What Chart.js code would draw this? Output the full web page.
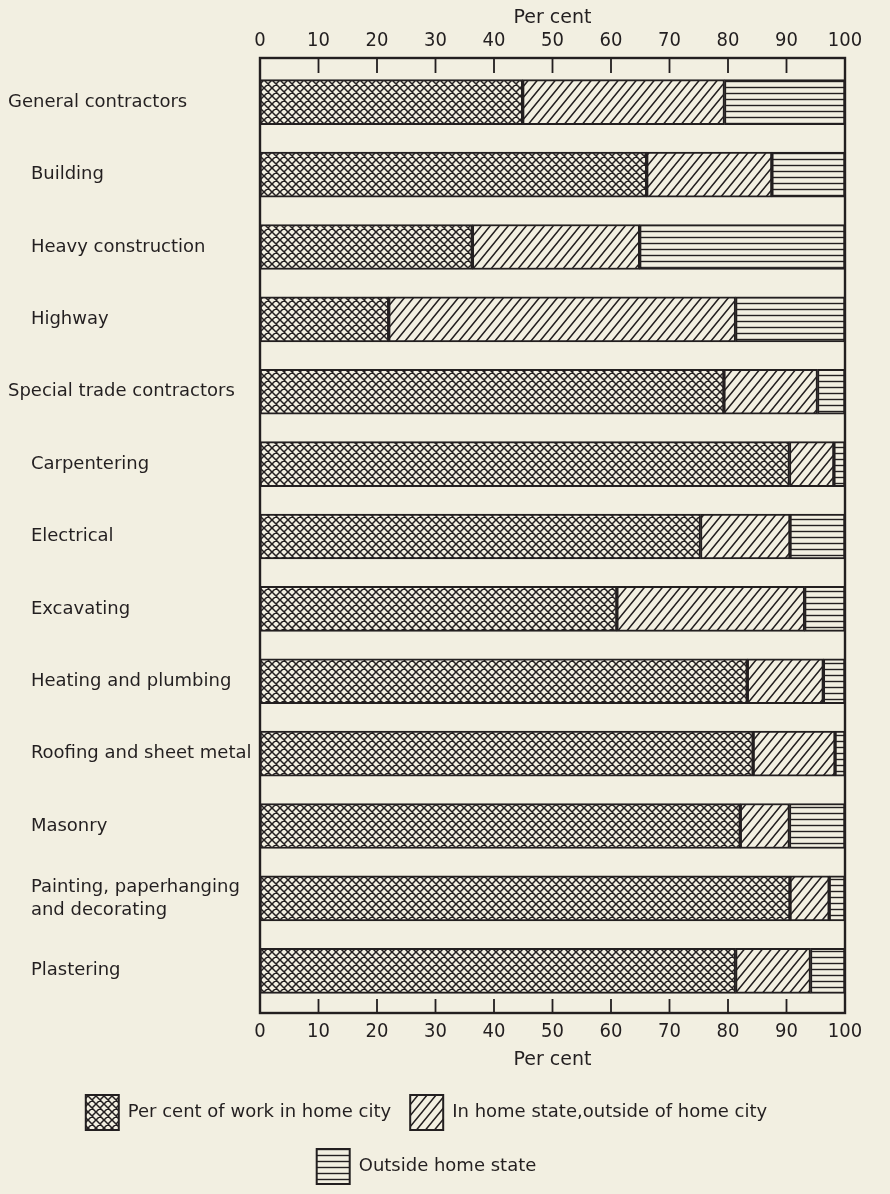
<!DOCTYPE html>
<html>
<head>
<meta charset="utf-8">
<script src="https://cdn.jsdelivr.net/npm/chart.js@4"></script>
<style>
  html, body { margin: 0; padding: 0; background: #f2efe1; }
  canvas { display: block; }
</style>
</head>
<body>
<canvas id="workchart" width="890" height="1194"></canvas>
<script>
var categories = [
    'General contractors',
    '    Building',
    '    Heavy construction',
    '    Highway',
    'Special trade contractors',
    '    Carpentering',
    '    Electrical',
    '    Excavating',
    '    Heating and plumbing',
    '    Roofing and sheet metal',
    '    Masonry',
    ['    Painting, paperhanging', '    and decorating'],
    '    Plastering'
];

// per cent of work
var homeCity     = [44.9, 66.1, 36.3, 22.0, 79.3, 90.5, 75.3, 61.0, 83.3, 84.3, 82.1, 90.6, 81.3];
var homeState    = [34.5, 21.4, 28.6, 59.3, 16.0,  7.6, 15.3, 32.1, 13.0, 14.0,  8.4,  6.7, 12.8];
var outsideState = [20.6, 12.5, 35.1, 18.7,  4.7,  1.9,  9.4,  6.9,  3.7,  1.7,  9.5,  2.7,  5.9];

var tickValues = [0, 10, 20, 30, 40, 50, 60, 70, 80, 90, 100];

var paper = '#f2efe1';
var ink = '#231f20';

function makePattern(kind) {
    var c = document.createElement('canvas');
    var w, h;
    if (kind == 'horizontal') { w = 6; h = 6; }
    else if (kind == 'diagonal') { w = 9; h = 11; }
    else { w = 8; h = 8; }
    c.width = w;
    c.height = h;
    var g = c.getContext('2d');
    g.fillStyle = paper;
    g.fillRect(0, 0, w, h);
    g.strokeStyle = ink;
    g.lineWidth = kind == 'horizontal' ? 1.4 : 1.5;
    g.beginPath();
    if (kind == 'horizontal') {
        g.moveTo(0, 3.5);
        g.lineTo(w, 3.5);
    } else {
        // "/" lines, plus copies one tile left and right for the corners
        [-w, 0, w].forEach(function(dx) {
            g.moveTo(dx - w, 2 * h);
            g.lineTo(dx + 2 * w, -h);
        });
        if (kind == 'cross') {
            [-w, 0, w].forEach(function(dx) {
                g.moveTo(dx - w, -h);
                g.lineTo(dx + 2 * w, 2 * h);
            });
        }
    }
    g.stroke();
    return g.createPattern(c, 'repeat');
}

var baseCtx = document.getElementById('workchart').getContext('2d');
var crossFill = makePattern('cross');
var diagFill = makePattern('diagonal');
var horizFill = makePattern('horizontal');

// frame round the plot with tick marks hanging inside it
var framePlugin = {
    id: 'frame',
    beforeDraw: function(chart) {
        var c = chart.ctx;
        c.save();
        c.fillStyle = paper;
        c.fillRect(0, 0, chart.width, chart.height);
        c.restore();
    },
    afterDatasetsDraw: function(chart) {
        var c = chart.ctx;
        var a = chart.chartArea;
        var x = chart.scales.x;
        var top = a.top - 8;
        var bottom = a.bottom + 6;
        c.save();
        c.strokeStyle = ink;
        c.lineWidth = 2.4;
        c.strokeRect(a.left, top, a.right - a.left, bottom - top);
        c.lineWidth = 1.8;
        c.beginPath();
        tickValues.slice(1, -1).forEach(function(v) {
            var px = x.getPixelForValue(v);
            c.moveTo(px, top);
            c.lineTo(px, top + 15);
            c.moveTo(px, bottom);
            c.lineTo(px, bottom - 14);
        });
        c.stroke();
        c.restore();
    }
};

var numFont = { family: "'DejaVu Sans Condensed', 'DejaVu Sans', sans-serif", size: 20 };
var textFont = "'DejaVu Sans', sans-serif";

var workchart = new Chart(baseCtx, {
    type: 'bar',
    data: {
        labels: categories,
        datasets: [{
            label: 'Per cent of work in home city',
            data: homeCity,
            backgroundColor: crossFill
        }, {
            label: 'In home state,outside of home city',
            data: homeState,
            backgroundColor: diagFill
        }, {
            label: 'Outside home state',
            data: outsideState,
            backgroundColor: horizFill
        }]
    },
    options: {
        indexAxis: 'y',
        responsive: false,
        animation: false,
        layout: { padding: { left: 8, right: 45, top: 0, bottom: 0 } },
        datasets: {
            bar: {
                borderColor: ink,
                borderWidth: 2,
                borderSkipped: false,
                barThickness: 45
            }
        },
        scales: {
            x: {
                position: 'top',
                stacked: true,
                min: 0,
                max: 100,
                afterBuildTicks: function(scale) {
                    scale.ticks = tickValues.map(function(v) { return { value: v }; });
                },
                afterFit: function(scale) { scale.height = 66; },
                grid: { display: false, drawTicks: false },
                border: { display: false },
                ticks: { color: ink, font: numFont, padding: 13, maxRotation: 0 },
                title: {
                    display: true,
                    text: 'Per cent',
                    color: ink,
                    font: { family: textFont, size: 19 },
                    padding: { top: 7, bottom: 0 }
                }
            },
            x2: {
                position: 'bottom',
                axis: 'x',
                min: 0,
                max: 100,
                afterBuildTicks: function(scale) {
                    scale.ticks = tickValues.map(function(v) { return { value: v }; });
                },
                afterFit: function(scale) { scale.height = 69; },
                grid: { display: false, drawTicks: false },
                border: { display: false },
                ticks: { color: ink, font: numFont, padding: 13, maxRotation: 0 },
                title: {
                    display: true,
                    text: 'Per cent',
                    color: ink,
                    font: { family: textFont, size: 19 },
                    padding: { top: 4, bottom: 5 }
                }
            },
            y: {
                stacked: true,
                afterFit: function(scale) { scale.width = 252; },
                grid: { display: false, drawTicks: false },
                border: { display: false },
                ticks: {
                    color: ink,
                    crossAlign: 'far',
                    padding: 0,
                    font: { family: textFont, size: 18, lineHeight: 1.28 }
                }
            }
        },
        plugins: {
            legend: {
                position: 'bottom',
                labels: {
                    color: ink,
                    boxWidth: 33,
                    boxHeight: 35,
                    padding: 19,
                    font: { family: textFont, size: 18 }
                }
            },
            tooltip: { enabled: false }
        }
    },
    plugins: [framePlugin]
});
</script>
</body>
</html>
